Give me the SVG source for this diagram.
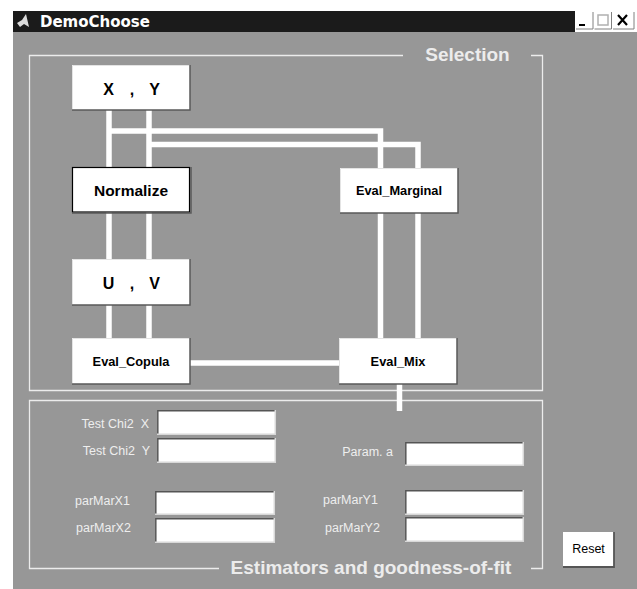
<svg xmlns="http://www.w3.org/2000/svg" width="637" height="589" viewBox="0 0 637 589">
<style>
.win{fill:#979797}
.frame{fill:none;stroke:#ececec;stroke-width:1.3}
.ftitle{font-family:"Liberation Sans",Arial,sans-serif;font-weight:bold;font-size:19px;fill:#ececec}
.node rect.bg{fill:#ffffff}
.hl{stroke:#e4e4e4;stroke-width:1;fill:none}
.sh{stroke:#5a5a5a;stroke-width:1.5;fill:none}
.nt{font-family:"Liberation Sans",Arial,sans-serif;font-weight:bold;fill:#000;text-anchor:middle}
.conn{fill:none;stroke:#ffffff;stroke-width:5.5;stroke-linejoin:miter;stroke-linecap:butt}
.lbl{font-family:"Liberation Sans",Arial,sans-serif;font-size:12.5px;fill:#eeeeee;white-space:pre}
.field{fill:#ffffff}
.fdark{stroke:#555555;stroke-width:1.5;fill:none}
.flight{stroke:#d8d8d8;stroke-width:1.5;fill:none}
</style>
<rect x="0" y="0" width="637" height="589" fill="#ffffff"/>
<!-- title bar -->
<g id="titlebar">
<rect x="13" y="11" width="562" height="21" fill="#1b1b1b"/>
<path d="M17 23 L22 20 L26 14 L29 27 L24 24 L20 27 Z" fill="#dcdcdc"/>
<text x="40" y="27" font-family="DejaVu Sans,Verdana,sans-serif" font-weight="bold" font-size="15" fill="#ffffff">DemoChoose</text>
<g id="btn-min"><rect x="576" y="12" width="17" height="17" fill="#ffffff"/><path d="M576 29 H593 V12" fill="none" stroke="#808080"/><rect x="579" y="24" width="6" height="2" fill="#000"/></g>
<g id="btn-max"><rect x="594.5" y="12" width="17" height="17" fill="#ffffff"/><path d="M594.5 29 H611.5 V12" fill="none" stroke="#808080"/><rect x="598" y="15" width="10" height="10" fill="none" stroke="#b0b0b0" stroke-width="1.5"/></g>
<g id="btn-close"><rect x="613" y="12" width="21" height="17" fill="#ffffff"/><path d="M613 29 H634 V12" fill="none" stroke="#808080"/><path d="M618 15 L627 25 M627 15 L618 25" stroke="#000" stroke-width="2.2"/></g>
</g>
<rect class="win" x="13" y="32" width="624" height="557"/>
<!-- frames -->
<g id="frame-selection">
<path class="frame" d="M403 55.5 H29.5 V390.5 H542.5 V55.5 H531"/>
<text class="ftitle" x="467.5" y="61" text-anchor="middle">Selection</text>
</g>
<g id="frame-estimators">
<path class="frame" d="M219 568.5 H29.5 V400.5 H542.5 V568.5 H531"/>
<text class="ftitle" x="371" y="574" text-anchor="middle">Estimators and goodness-of-fit</text>
</g>
<!-- connectors -->
<g id="connectors">
<path class="conn" d="M109 110 V167"/>
<path class="conn" d="M149 110 V167"/>
<path class="conn" d="M109 131 H380.5 V168"/>
<path class="conn" d="M149 144.5 H418 V168"/>
<path class="conn" d="M109 212 V259"/>
<path class="conn" d="M149 212 V259"/>
<path class="conn" d="M109 305 V338"/>
<path class="conn" d="M149 305 V338"/>
<path class="conn" d="M380.5 213 V338"/>
<path class="conn" d="M418 213 V338"/>
<path class="conn" d="M190 363 H339"/>
<path class="conn" d="M399.5 384 V411"/>
</g>
<!-- nodes -->
<g id="node-xy" class="node">
<rect class="bg" x="72" y="65" width="118" height="45"/>
<path class="hl" d="M72.5 109 V65.5 H189"/><path class="sh" d="M72 110 H190 V65"/>
<text class="nt" font-size="16" y="95"><tspan x="108.5">X</tspan><tspan x="132">,</tspan><tspan x="154.5">Y</tspan></text>
</g>
<g id="node-normalize" class="node">
<rect class="bg" x="72.5" y="167.5" width="117" height="44.5" stroke="#000" stroke-width="1.2"/>
<path class="sh" d="M72 213 H191 V167"/>
<text class="nt" font-size="15.5" x="131" y="196">Normalize</text>
</g>
<g id="node-uv" class="node">
<rect class="bg" x="72" y="259" width="118" height="46"/>
<path class="hl" d="M72.5 304 V259.5 H189"/><path class="sh" d="M72 305 H190 V259"/>
<text class="nt" font-size="16" y="289"><tspan x="108.5">U</tspan><tspan x="132">,</tspan><tspan x="154.5">V</tspan></text>
</g>
<g id="node-evalcopula" class="node">
<rect class="bg" x="72" y="338" width="118" height="46"/>
<path class="hl" d="M72.5 383 V338.5 H189"/><path class="sh" d="M72 384 H190 V338"/>
<text class="nt" font-size="12.8" x="131" y="366">Eval_Copula</text>
</g>
<g id="node-evalmarginal" class="node">
<rect class="bg" x="340" y="168" width="118" height="45"/>
<path class="hl" d="M340.5 212 V168.5 H457"/><path class="sh" d="M340 213 H458 V168"/>
<text class="nt" font-size="12.8" x="399" y="195">Eval_Marginal</text>
</g>
<g id="node-evalmix" class="node">
<rect class="bg" x="339" y="338" width="118" height="46"/>
<path class="hl" d="M339.5 383 V338.5 H456"/><path class="sh" d="M339 384 H457 V338"/>
<text class="nt" font-size="12.8" x="398" y="366">Eval_Mix</text>
</g>
<!-- estimator fields -->
<g id="field-chi2x">
<text class="lbl" x="149" y="428" text-anchor="end">Test Chi2  X</text>
<rect class="field" x="157" y="410" width="119" height="25"/>
<path class="fdark" d="M157.8 435 V410.8 H276"/><path class="flight" d="M157 434.3 H275.3 V410"/>
</g>
<g id="field-chi2y">
<text class="lbl" x="150" y="455" text-anchor="end">Test Chi2  Y</text>
<rect class="field" x="157" y="438" width="119" height="25"/>
<path class="fdark" d="M157.8 463 V438.8 H276"/><path class="flight" d="M157 462.3 H275.3 V438"/>
</g>
<g id="field-parama">
<text class="lbl" x="393" y="456" text-anchor="end">Param. a</text>
<rect class="field" x="405" y="442" width="119" height="24"/>
<path class="fdark" d="M405.8 466 V442.8 H524"/><path class="flight" d="M405 465.3 H523.3 V442"/>
</g>
<g id="field-parmarx1">
<text class="lbl" x="75" y="505">parMarX1</text>
<rect class="field" x="155" y="491" width="120" height="24"/>
<path class="fdark" d="M155.8 515 V491.8 H275"/><path class="flight" d="M155 514.3 H274.3 V491"/>
</g>
<g id="field-parmarx2">
<text class="lbl" x="76" y="532">parMarX2</text>
<rect class="field" x="155" y="518" width="120" height="25"/>
<path class="fdark" d="M155.8 543 V518.8 H275"/><path class="flight" d="M155 542.3 H274.3 V518"/>
</g>
<g id="field-parmary1">
<text class="lbl" x="323" y="504">parMarY1</text>
<rect class="field" x="405" y="490" width="119" height="25"/>
<path class="fdark" d="M405.8 515 V490.8 H524"/><path class="flight" d="M405 514.3 H523.3 V490"/>
</g>
<g id="field-parmary2">
<text class="lbl" x="325" y="532">parMarY2</text>
<rect class="field" x="405" y="517" width="119" height="25"/>
<path class="fdark" d="M405.8 542 V517.8 H524"/><path class="flight" d="M405 541.3 H523.3 V517"/>
</g>
<g id="btn-reset">
<rect x="563" y="532" width="51" height="35" fill="#ffffff"/>
<path d="M563 567 H614 V532" fill="none" stroke="#555555" stroke-width="1.8"/>
<text x="588.5" y="553" text-anchor="middle" font-family="Liberation Sans,Arial,sans-serif" font-size="12.5" fill="#000">Reset</text>
</g>
</svg>
